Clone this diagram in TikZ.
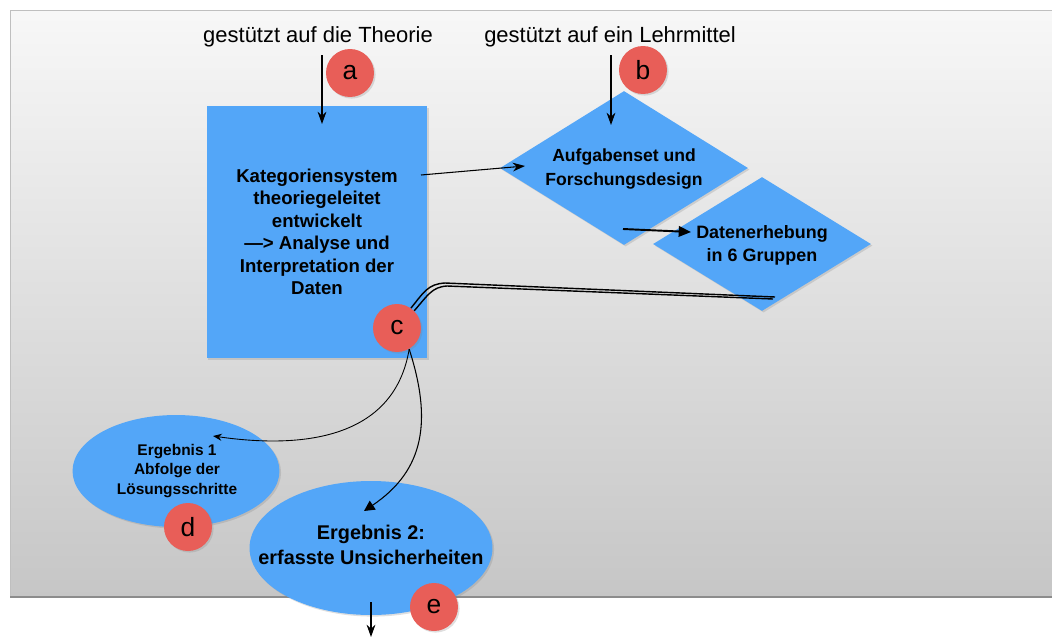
\documentclass[tikz,border=0pt]{standalone}
\usepackage{fontspec}
\setmainfont{Liberation Sans}
\usetikzlibrary{shapes.geometric, arrows.meta, positioning, shadows}
\definecolor{boxblue}{RGB}{83,166,248}
\definecolor{markred}{RGB}{232,94,88}
\definecolor{panelgray}{RGB}{198,198,198}

\begin{document}
\begin{tikzpicture}[x=0.02cm, y=-0.02cm,
    blueshape/.style={fill=boxblue, draw=none, align=center, font=\bfseries, inner sep=0pt,
        drop shadow={opacity=0.25, shadow xshift=0.9pt, shadow yshift=-0.9pt}},
    inside/.style={align=center, font=\bfseries#1},
    marker/.style={circle, fill=markred, minimum size=0.96cm, inner sep=0pt,
        font=\fontsize{15}{15}\selectfont,
        drop shadow={opacity=0.25, shadow xshift=0.9pt, shadow yshift=-0.9pt}},
    lead/.style={-{Stealth[length=7pt, width=5pt]}, semithick},
    sketch/.style={black, line width=0.6pt}]
    \useasboundingbox (0,0) rectangle (1052,636);

    % Panel
    \shade[top color=white!97!black, bottom color=panelgray] (10,10) rectangle (1060,597);
    \draw[black!25] (1060,10) -- (10,10) -- (10,597);
    \draw[black!45, line width=1pt] (10,597) -- (1060,597);

    % Labels on top
    \node[font=\fontsize{12.5}{15}\selectfont] (theory) at (318,37) {gestützt auf die Theorie};
    \node[font=\fontsize{12.5}{15}\selectfont] (aid) at (610,37) {gestützt auf ein Lehrmittel};

    % Main shapes
    \node[blueshape, rectangle, minimum width=4.42cm, minimum height=5.04cm,
        font=\bfseries\fontsize{10.6}{12.8}\selectfont] (kat) at (317,232)
        {Kategoriensystem\\theoriegeleitet\\entwickelt\\—> Analyse und\\Interpretation der\\Daten};
    \node[blueshape, diamond, minimum width=4.96cm, minimum height=3.08cm] (auf) at (624,168) {};
    \node[inside=\fontsize{10}{13.6}\selectfont] (auf text) at (624,169)
        {Aufgabenset und\\Forschungsdesign};
    \node[blueshape, diamond, minimum width=4.36cm, minimum height=2.68cm] (dat) at (762,244) {};
    \node[inside=\fontsize{10.2}{13}\selectfont] (dat text) at (762,245)
        {Datenerhebung\\in 6 Gruppen};
    \node[blueshape, ellipse, minimum width=4.14cm, minimum height=2.24cm] (erg1) at (176,471) {};
    \node[inside=\fontsize{8.8}{11}\selectfont] (erg1 text) at (177,471)
        {Ergebnis 1\\Abfolge der\\Lösungsschritte};
    \node[blueshape, ellipse, minimum width=4.86cm, minimum height=2.68cm] (erg2) at (371,548) {};
    \node[inside=\fontsize{11.3}{14.2}\selectfont] (erg2 text) at (371,545)
        {Ergebnis 2:\\erfasste Unsicherheiten};

    % Markers
    \node[marker] (a) at (350,73) {a};
    \node[marker] (b) at (643,70) {b};
    \node[marker] (c) at (397,328) {c};
    \node[marker] (d) at (188,527) {d};
    \node[marker] (e) at (434,607) {e};

    % Free ends
    \coordinate (a top) at (322,55);
    \coordinate (a end) at (322,124);
    \coordinate (b top) at (611,55);
    \coordinate (b end) at (611,125);
    \coordinate (kat out) at (421,175);
    \coordinate (auf in) at (525,166);
    \coordinate (auf out) at (623,229);
    \coordinate (dat in) at (691,232);
    \coordinate (dat end) at (775,297);
    \coordinate (dat end2) at (773,299);
    \coordinate (erg1 in) at (213,436);
    \coordinate (erg2 in) at (364,511);
    \coordinate (erg2 out) at (371,602);
    \coordinate (bottom) at (371,637);

    % Connectors
    \draw[lead] (a top) -- (a end);
    \draw[lead] (b top) -- (b end);
    \draw[lead] (kat out) -- (auf in);
    \draw[sketch, line width=1.1pt, -{Triangle[length=7pt, width=6pt]}] (auf out) -- (dat in);
    \draw[sketch, line width=0.8pt] (c.55) .. controls (424,292) and (428,284) .. (445,283) -- (dat end);
    \draw[sketch, line width=0.8pt] (c.45) .. controls (428,295) and (432,287) .. (447,286) -- (dat end2);
    \draw[sketch, line width=0.5pt, -{Stealth[length=5pt, width=4pt]}]
        (c.-60) .. controls (395,435) and (310,450) .. (erg1 in);
    \draw[sketch, -{Triangle[length=6pt, width=6pt]}]
        (c.-60) .. controls (432,420) and (425,470) .. (erg2 in);
    \draw[lead] (erg2 out) -- (bottom);
\end{tikzpicture}
\end{document}
